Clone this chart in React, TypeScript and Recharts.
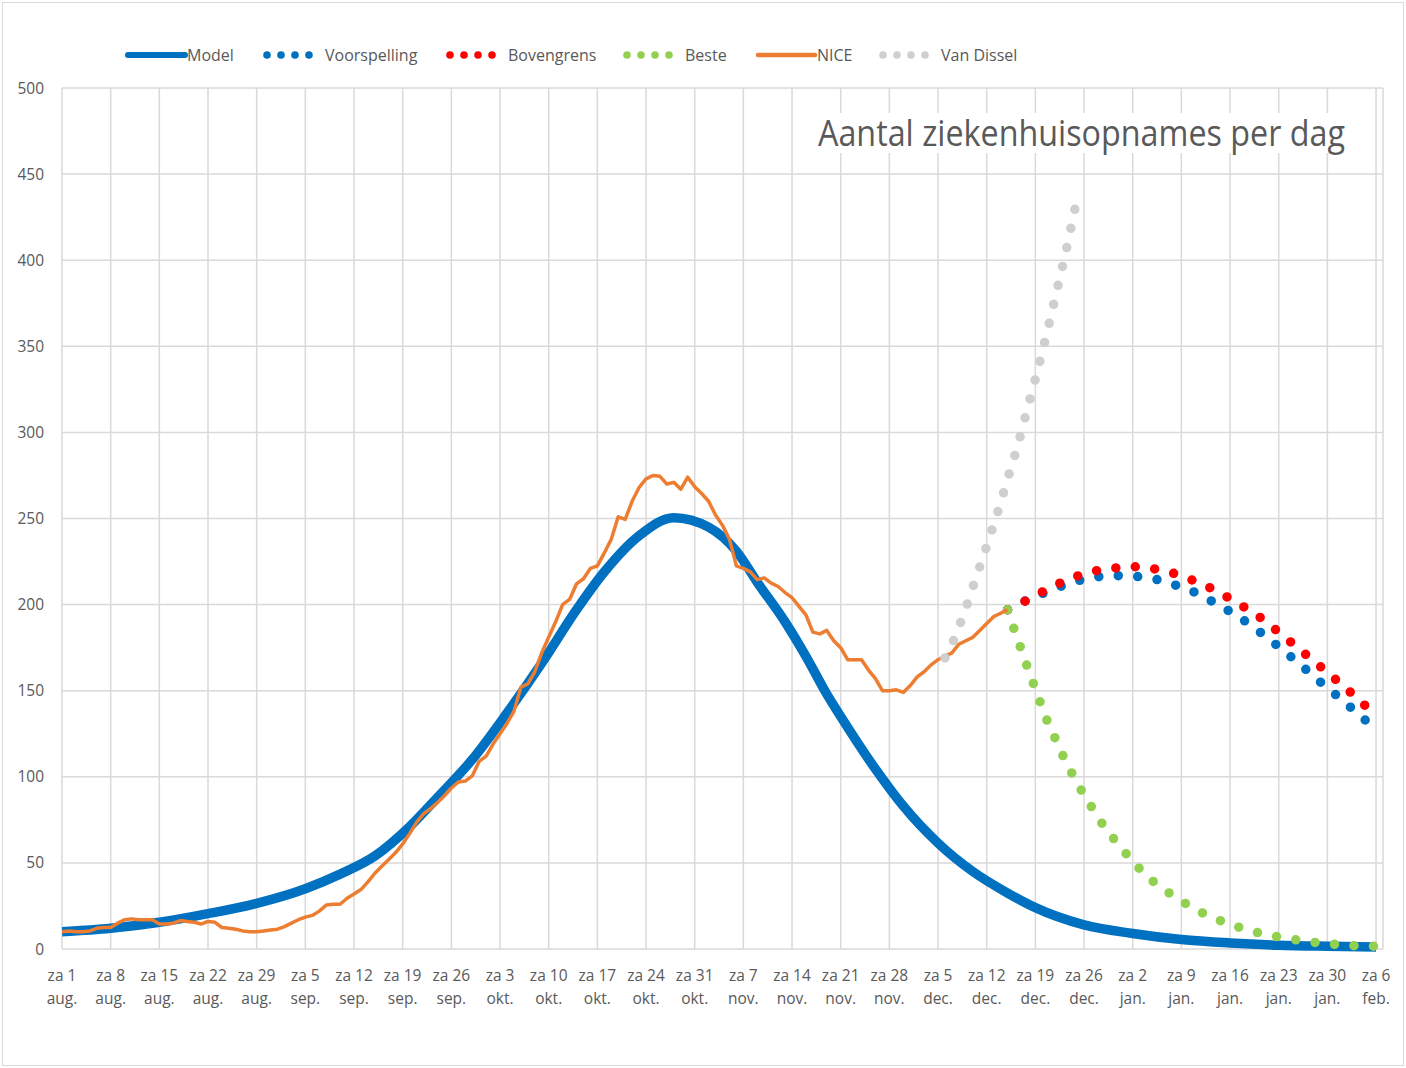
import React from 'react';
import { LineChart, Line, XAxis, YAxis, CartesianGrid } from 'recharts';

// x = day index counted from za 1 aug. (0) to za 6 feb. (189)
const tickDays = [0, 7, 14, 21, 28, 35, 42, 49, 56, 63, 70, 77, 84, 91, 98, 105, 112, 119, 126, 133, 140, 147, 154, 161, 168, 175, 182, 189];
const tickDayNums = ['1', '8', '15', '22', '29', '5', '12', '19', '26', '3', '10', '17', '24', '31', '7', '14', '21', '28', '5', '12', '19', '26', '2', '9', '16', '23', '30', '6'];
const tickMonths = ['aug.', 'aug.', 'aug.', 'aug.', 'aug.', 'sep.', 'sep.', 'sep.', 'sep.', 'okt.', 'okt.', 'okt.', 'okt.', 'okt.', 'nov.', 'nov.', 'nov.', 'nov.', 'dec.', 'dec.', 'dec.', 'dec.', 'jan.', 'jan.', 'jan.', 'jan.', 'jan.', 'feb.'];
const yTicks = [0, 50, 100, 150, 200, 250, 300, 350, 400, 450, 500];

const modelDays = [0, 7, 14, 21, 28, 35, 40, 45, 50, 54, 59, 64, 69, 74, 78, 83, 88, 93, 97, 100, 104, 107, 110, 112, 117, 121, 126, 131, 136, 140, 147, 154, 161, 168, 175, 182, 189];
const modelValues = [10, 12, 15.5, 20.5, 26.5, 35, 43.5, 54, 71, 88, 110, 137, 166, 197, 219, 240, 250.5, 245, 231, 213, 190, 170, 148, 135, 104.5, 83, 61.5, 45, 32.5, 24, 14, 9, 5.5, 3.5, 2.2, 1.6, 1.2];

// NICE: one value per day starting at day 0
const niceValues = [
  10, 10.5, 10, 10, 10.5, 12, 12.5, 12.5, 15, 17,
  17.5, 17, 17, 17, 14.5, 14.5, 15, 16.5, 16, 15.5,
  14.5, 16, 15.5, 12.5, 12, 11.5, 10.5, 10, 10, 10.5,
  11, 11.5, 13, 15, 17, 18.5, 19.5, 22, 25.5, 26,
  26, 29.5, 32, 34.5, 39, 44, 48, 52, 56, 61,
  67, 73.5, 78.5, 81.5, 85, 89, 93.5, 97, 97.5, 100.5,
  109, 112, 119, 125, 131, 138, 152, 154, 161, 172,
  181, 190, 200, 203, 212, 215, 221, 222.5, 230, 238,
  251, 249.5, 260, 268, 273, 275, 274.5, 270, 271, 267,
  274, 268.5, 264.5, 260, 252, 246, 238, 222.5, 221, 219,
  214.5, 215.5, 212.5, 210.5, 207, 204, 199, 194, 184, 183,
  185, 179, 175, 168, 168, 168, 162, 157, 150, 150,
  150.5, 149, 153, 158, 161, 165, 168, 170, 172, 177,
  179, 181, 185, 189, 193, 195, 197,
];

const voorspellingDays = [136, 139, 142, 145, 148, 151, 154, 157, 160, 163, 166, 169, 172, 175, 178, 181, 184, 187, 189];
const voorspellingValues = [197, 203, 208, 212.5, 215.5, 216.8, 216.5, 215, 211.5, 207, 200.5, 193.5, 185, 175.5, 165.5, 155, 145, 134.5, 127.5];

const bovengrensDays = [136, 139, 142, 145, 148, 151, 154, 157, 160, 163, 166, 169, 172, 175, 178, 181, 184, 187, 189];
const bovengrensValues = [197, 203, 209.5, 215, 219, 221, 222, 220.8, 218, 213.5, 208, 201, 193.5, 184, 174, 164, 153.7, 143, 135];

const besteDays = [136, 137, 138, 139, 140, 141, 142, 143, 144, 145, 146, 147, 148, 150, 152, 154, 156, 158, 160, 162, 164, 166, 168, 170, 172, 174, 176, 178, 180, 182, 185, 189];
const besteValues = [197, 185, 173.5, 162, 151, 140, 129.5, 121, 112, 104, 96.5, 89.5, 83, 70.5, 60.5, 51, 42.5, 36, 30.5, 25.5, 21, 17.5, 14.3, 11.8, 9.5, 7.8, 6.2, 5, 3.9, 3.1, 2.1, 1.6];

const vanDisselDays = [127, 128, 129, 130, 131, 132, 133, 134, 135, 136, 137, 138, 139, 140, 141, 142, 143, 144, 145, 146];
const vanDisselValues = [169, 177, 187, 198, 210, 222, 234, 246.4, 259, 273, 286, 300.5, 316, 331, 347, 363.5, 381, 398, 416.5, 436];

const toPoints = (days: number[], values: number[]) => days.map((d, i) => ({ day: d, v: values[i] }));
const modelData = toPoints(modelDays, modelValues);
const niceData = niceValues.map((v, i) => ({ day: i, v }));
const voorspellingData = toPoints(voorspellingDays, voorspellingValues);
const bovengrensData = toPoints(bovengrensDays, bovengrensValues);
const besteData = toPoints(besteDays, besteValues);
const vanDisselData = toPoints(vanDisselDays, vanDisselValues);

const BLUE = '#0070C0';
const RED = '#FF0000';
const GREEN = '#92D050';
const ORANGE = '#ED7D31';
const GRAY = '#D0CECE';
const TEXT = '#595959';
const GRID = '#D9D9D9';
const FONT = '"Open Sans", "Noto Sans", sans-serif';

const legendItems = [
  { name: 'Model', color: BLUE, kind: 'line', x: 128 },
  { name: 'Voorspelling', color: BLUE, kind: 'dots', x: 267 },
  { name: 'Bovengrens', color: RED, kind: 'dots', x: 450 },
  { name: 'Beste', color: GREEN, kind: 'dots', x: 627 },
  { name: 'NICE', color: ORANGE, kind: 'line', x: 758 },
  { name: 'Van Dissel', color: GRAY, kind: 'dots', x: 883 },
];

const XTick = (props: any) => {
  const { x, y, payload } = props;
  const i = tickDays.indexOf(payload.value);
  return (
    <g>
      <text x={x} y={y + 32} textAnchor="middle" fill={TEXT} fontSize={15.5} fontFamily={FONT}>
        {'za ' + tickDayNums[i]}
      </text>
      <text x={x} y={y + 54.5} textAnchor="middle" fill={TEXT} fontSize={15.5} fontFamily={FONT}>
        {tickMonths[i]}
      </text>
    </g>
  );
};

const Legend = () => (
  <svg width={1406} height={30} style={{ position: 'absolute', left: 0, top: 40 }}>
    {legendItems.map((it) => {
      const cy = 15;
      if (it.kind === 'line') {
        const w = it.name === 'Model' ? 6 : 4.5;
        return (
          <g key={it.name}>
            <line x1={it.x} x2={it.x + 57} y1={cy} y2={cy} stroke={it.color} strokeWidth={w} strokeLinecap="round" />
            <text x={it.x + 59} y={cy} dy="0.35em" fill={TEXT} fontSize={16} fontFamily={FONT}>{it.name}</text>
          </g>
        );
      }
      return (
        <g key={it.name}>
          {[0, 1, 2, 3].map((k) => (
            <circle key={k} cx={it.x + k * 14} cy={cy} r={3.8} fill={it.color} />
          ))}
          <text x={it.x + 58} y={cy} dy="0.35em" fill={TEXT} fontSize={16} fontFamily={FONT}>{it.name}</text>
        </g>
      );
    })}
  </svg>
);

const Title = () => (
  <svg width={1406} height={200} style={{ position: 'absolute', left: 0, top: 0, pointerEvents: 'none' }}>
    <rect x={814} y={113} width={536} height={40} fill="#ffffff" />
    <text x={818} y={146} fill={TEXT} fontSize={36} fontFamily={FONT} textLength={527} lengthAdjust="spacingAndGlyphs">
      Aantal ziekenhuisopnames per dag
    </text>
  </svg>
);

const dotted = { strokeDasharray: '0 19.5', strokeLinecap: 'round' as const, strokeWidth: 9.5 };

export default function App() {
  return (
    <div style={{ position: 'absolute', left: 0, top: 0, width: 1406, height: 1068, background: '#ffffff', fontFamily: FONT }}>
      <div style={{ position: 'absolute', left: 2, top: 2, width: 1400, height: 1062, border: `1px solid ${GRID}` }} />
      <div style={{ position: 'absolute', left: 0, top: 0 }}>
        <LineChart width={1406} height={1068} margin={{ top: 88, right: 23, bottom: 59, left: 0 }}>
          <CartesianGrid stroke={GRID} strokeWidth={1.5} />
          <XAxis
            type="number"
            dataKey="day"
            domain={[0, 190]}
            ticks={tickDays}
            interval={0}
            axisLine={false}
            tickLine={false}
            tickSize={0}
            tickMargin={0}
            height={60}
            tick={<XTick />}
            allowDataOverflow
          />
          <YAxis
            type="number"
            domain={[0, 500]}
            ticks={yTicks}
            interval={0}
            axisLine={false}
            tickLine={false}
            tickSize={0}
            tickMargin={18}
            width={62}
            tick={{ fill: TEXT, fontSize: 15.5, fontFamily: FONT }}
          />
          <Line data={modelData} dataKey="v" type="monotone" stroke={BLUE} strokeWidth={9.5} dot={false} activeDot={false} isAnimationActive={false} />
          <Line data={voorspellingData} dataKey="v" type="monotone" stroke={BLUE} {...dotted} dot={false} activeDot={false} isAnimationActive={false} />
          <Line data={bovengrensData} dataKey="v" type="monotone" stroke={RED} {...dotted} dot={false} activeDot={false} isAnimationActive={false} />
          <Line data={besteData} dataKey="v" type="monotone" stroke={GREEN} {...dotted} dot={false} activeDot={false} isAnimationActive={false} />
          <Line data={niceData} dataKey="v" type="linear" stroke={ORANGE} strokeWidth={3.5} strokeLinejoin="round" dot={false} activeDot={false} isAnimationActive={false} />
          <Line data={vanDisselData} dataKey="v" type="monotone" stroke={GRAY} {...dotted} dot={false} activeDot={false} isAnimationActive={false} />
        </LineChart>
      </div>
      <Legend />
      <Title />
    </div>
  );
}
